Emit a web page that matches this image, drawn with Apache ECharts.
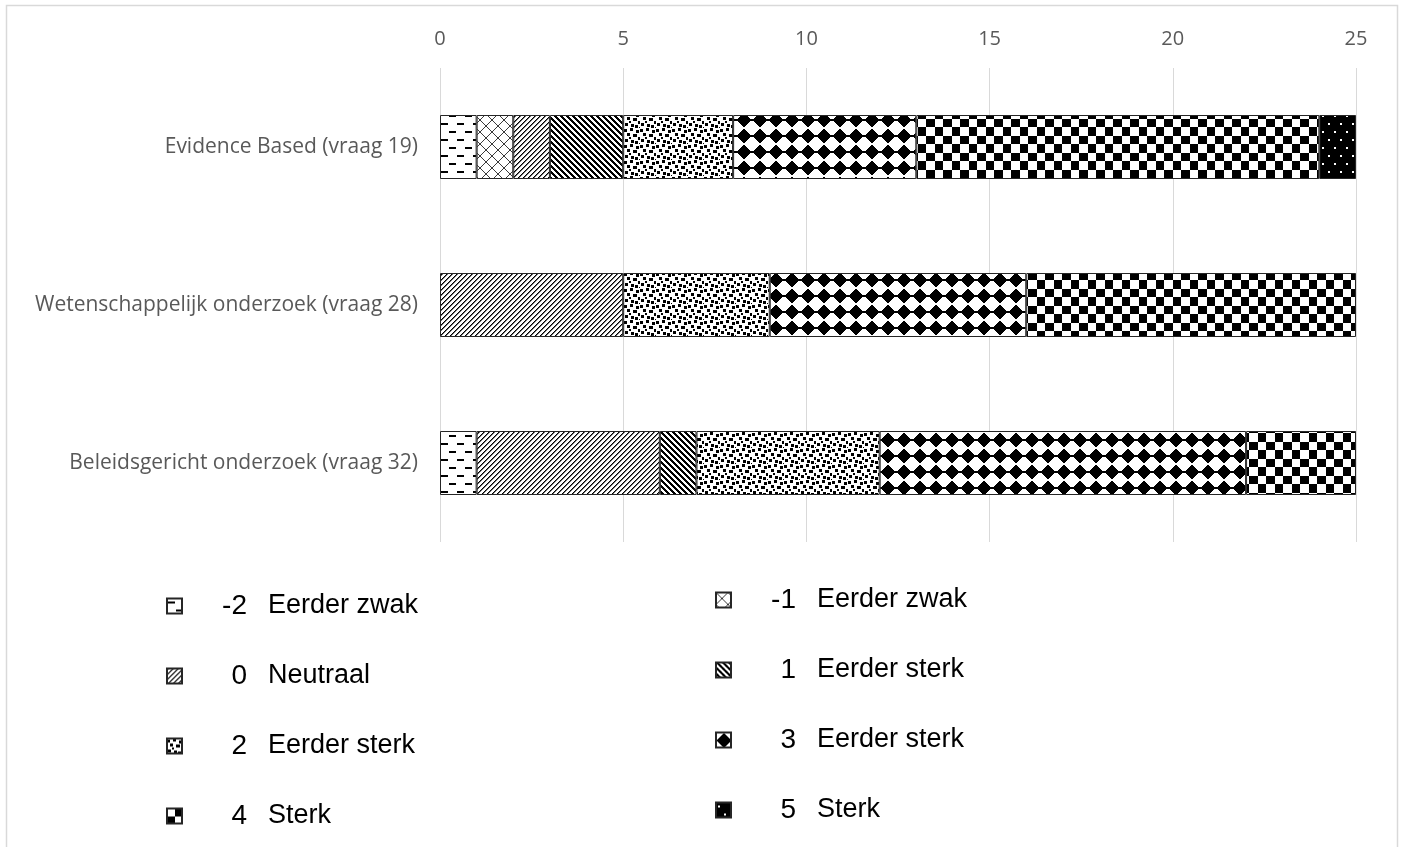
<!DOCTYPE html>
<html>
<head>
<meta charset="utf-8">
<title>Evidence based, wetenschappelijk en beleidsgericht onderzoek</title>
<script src="https://cdn.jsdelivr.net/npm/echarts@6/dist/echarts.min.js"></script>
<style>
  html, body { margin: 0; padding: 0; background: #ffffff; }
  #chart { width: 1404px; height: 847px; }
</style>
</head>
<body>
<div id="chart"></div>
<script>
// Vragen (categorieën op de verticale as, van boven naar beneden)
const categories = [
  'Evidence Based (vraag 19)',
  'Wetenschappelijk onderzoek (vraag 28)',
  'Beleidsgericht onderzoek (vraag 32)'
];

// Antwoordschaal: score en omschrijving
const scoreCodes = ['-2', '-1', '0', '1', '2', '3', '4', '5'];
const scoreLabels = ['Eerder zwak', 'Eerder zwak', 'Neutraal', 'Eerder sterk',
                     'Eerder sterk', 'Eerder sterk', 'Sterk', 'Sterk'];

// Aantal respondenten per score (volgorde zoals scoreCodes)
const evidenceBased    = [1, 1, 1, 2, 3, 5, 11, 1];
const wetenschappelijk = [0, 0, 5, 0, 4, 7, 9, 0];
const beleidsgericht   = [1, 0, 5, 1, 5, 10, 3, 0];

// As-schaal
const axisMax = 25;
const axisStep = 5;

// ---- zwart-wit vulpatronen, pixel voor pixel getekend ----
function tile(w, h, paint, bg) {
  const c = document.createElement('canvas');
  c.width = w; c.height = h;
  const ctx = c.getContext('2d');
  ctx.fillStyle = bg || '#ffffff';
  ctx.fillRect(0, 0, w, h);
  ctx.fillStyle = bg === '#000000' ? '#ffffff' : '#000000';
  paint(ctx, w, h);
  return { image: c, repeat: 'repeat' };
}
function eachPixel(ctx, w, h, test) {
  for (let y = 0; y < h; y++)
    for (let x = 0; x < w; x++)
      if (test(x, y)) ctx.fillRect(x, y, 1, 1);
}

const patterns = [
  // -2: horizontale streepjes
  tile(16, 16, ctx => {
    ctx.fillRect(1, 3, 7, 2);
    ctx.fillRect(9, 11, 7, 2);
  }),
  // -1: ruitvormig kruisarcering
  tile(12, 12, (ctx, w, h) => {
    ctx.fillStyle = '#3a3a3a';
    eachPixel(ctx, w, h, (x, y) => x === y || x === (w - 1 - y));
  }),
  // 0: fijne diagonale lijnen /
  tile(5, 5, (ctx, w, h) => {
    eachPixel(ctx, w, h, (x, y) => ((x + y) % 5) === 0);
    ctx.fillStyle = '#6e6e6e';
    eachPixel(ctx, w, h, (x, y) => ((x + y) % 5) === 1);
  }),
  // 1: brede diagonale lijnen \
  tile(6, 6, (ctx, w, h) => {
    eachPixel(ctx, w, h, (x, y) => (((x - y) % 6) + 6) % 6 < 3);
  }),
  // 2: confetti
  tile(16, 16, ctx => {
    const sq = [[0, 1, 3, 3], [6, 0, 3, 3], [12, 2, 3, 3], [3, 5, 3, 3],
                [9, 6, 4, 3], [14, 9, 3, 3], [1, 11, 3, 3], [7, 12, 3, 3],
                [11, 13, 3, 3], [5, 9, 2, 2], [15, 15, 2, 2]];
    sq.forEach(([x, y, w, h]) => ctx.fillRect(x, y, w, h));
  }),
  // 3: massieve ruiten
  tile(16, 16, (ctx, w, h) => {
    eachPixel(ctx, w, h, (x, y) => Math.abs(x - 7.5) / 8 + Math.abs(y - 7.5) / 7 <= 1.02);
  }),
  // 4: dambord
  tile(17, 17, (ctx, w, h) => {
    eachPixel(ctx, w, h, (x, y) => (x < 8) !== (y < 8));
  }),
  // 5: zwart met witte stipjes
  tile(12, 16, ctx => {
    ctx.fillRect(2, 3, 2, 2);
    ctx.fillRect(8, 11, 2, 2);
  }, '#000000')
];

const seriesNames = scoreCodes.map((c, i) => c + ' ' + scoreLabels[i]);
const rows = [evidenceBased, wetenschappelijk, beleidsgericht];

const series = seriesNames.map((name, i) => ({
  name: name,
  type: 'bar',
  stack: 'totaal',
  barWidth: 64,
  itemStyle: {
    color: patterns[i],
    borderColor: '#262626',
    borderWidth: 1
  },
  data: rows.map(r => (r[i] === 0 ? null : r[i]))
}));

// Legenda: score rechts uitgelijnd in een vaste kolom, daarna de omschrijving
const codeSize = 28;
const codeColumn = 60;
const measureCtx = document.createElement('canvas').getContext('2d');
measureCtx.font = codeSize + 'px "Liberation Sans"';
const legendRich = {
  t: { fontFamily: 'Liberation Sans', fontSize: 27, color: '#000000',
       padding: [0, 0, 0, 21], lineHeight: 30 }
};
scoreCodes.forEach((code, i) => {
  const w = measureCtx.measureText(code).width;
  legendRich['n' + i] = {
    fontFamily: 'Liberation Sans', fontSize: codeSize, color: '#000000',
    padding: [0, 0, 0, Math.max(0, codeColumn - w)], lineHeight: 30
  };
});
function legendText(name) {
  const i = seriesNames.indexOf(name);
  return '{n' + i + '|' + scoreCodes[i] + '}{t|' + scoreLabels[i] + '}';
}
function makeLegend(indices, left, top) {
  return {
    orient: 'vertical',
    left: left,
    top: top,
    padding: 0,
    itemGap: 42,
    itemWidth: 15,
    itemHeight: 15,
    icon: 'rect',
    selectedMode: false,
    data: indices.map(i => seriesNames[i]),
    formatter: legendText,
    textStyle: { rich: legendRich }
  };
}

const chart = echarts.init(document.getElementById('chart'));
chart.setOption({
  animation: false,
  backgroundColor: '#ffffff',
  graphic: [{
    type: 'rect',
    silent: true,
    shape: { x: 6.5, y: 5.5, width: 1391, height: 900 },
    style: { fill: 'none', stroke: '#d9d9d9', lineWidth: 1.5 }
  }],
  grid: { left: 440, right: 48, top: 68, bottom: 305, containLabel: false },
  xAxis: {
    type: 'value',
    position: 'top',
    min: 0,
    max: axisMax,
    interval: axisStep,
    axisLine: { show: false },
    axisTick: { show: false },
    splitLine: { lineStyle: { color: '#d9d9d9', width: 1 } },
    axisLabel: { color: '#595959', fontFamily: 'Open Sans', fontSize: 20, margin: 19 }
  },
  yAxis: {
    type: 'category',
    inverse: true,
    data: categories,
    axisLine: { show: false },
    axisTick: { show: false },
    axisLabel: { color: '#595959', fontFamily: 'Open Sans', fontSize: 21, margin: 22 }
  },
  legend: [
    makeLegend([0, 2, 4, 6], 166, 592),
    makeLegend([1, 3, 5, 7], 715, 586)
  ],
  series: series
});
</script>
</body>
</html>
